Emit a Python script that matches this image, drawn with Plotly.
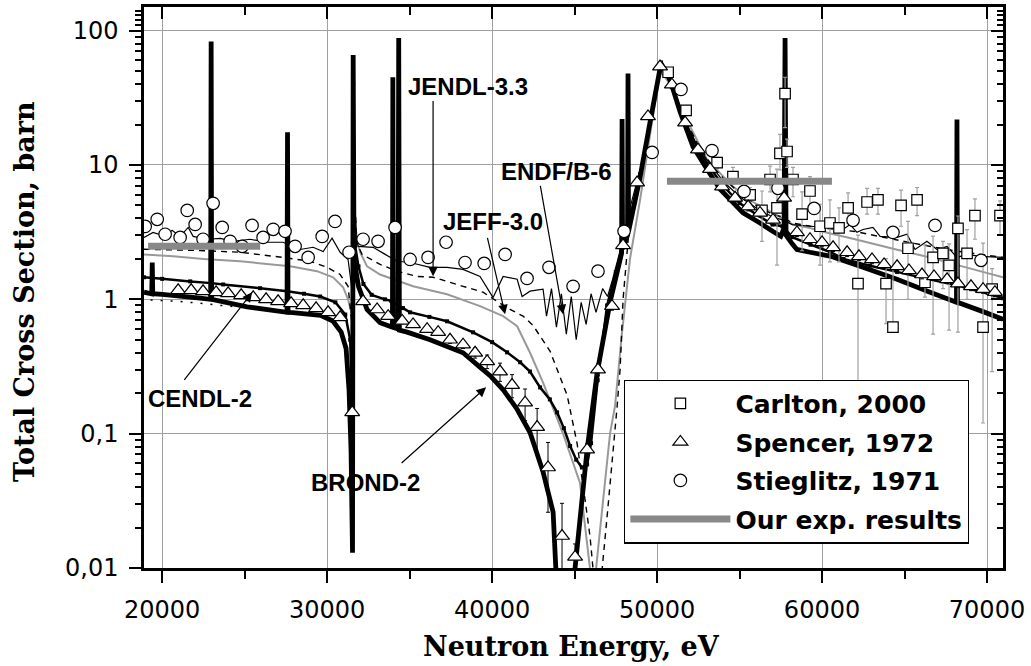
import plotly.graph_objects as go

# ---------------- data (energy in eV, cross section in barn) ----------------
brond_E = [18900, 19370, 19400, 19430, 20000, 22300, 22940, 22970, 23000, 25150, 27570, 27600, 27630,
           27750, 29600, 30350, 30850, 31150, 31330, 31450, 31540, 31580, 31630, 31900, 32420, 33210,
           33800, 33960, 33985, 34010, 34300, 34340, 34380, 34850, 36240, 38240, 39300, 39880, 40700,
           41515, 42300, 43090, 43700, 43950, 44700, 45030, 45760, 46360, 47150, 47850, 47880, 47910,
           48210, 48240, 48270, 48970, 49580, 50240, 50790, 51390, 52180, 53030, 53820, 55210, 56240,
           57030, 57500, 57700, 57760, 57820, 58180, 58480, 59270, 60480, 62480, 64540, 66550, 68150,
           68180, 68210, 69760, 70970]
brond_S = [1.13, 1.10, 1.88, 1.10, 1.09, 1.02, 1.00, 83, 1.00, 0.88, 0.80, 17.5, 0.80,
           0.80, 0.76, 0.69, 0.57, 0.43, 0.21, 0.076, 0.013, 66, 2.0, 1.25, 0.84, 0.67,
           0.63, 0.62, 45, 0.62, 0.60, 88, 0.59, 0.57, 0.50, 0.40, 0.31, 0.27, 0.21,
           0.152, 0.102, 0.052, 0.026, 0.006, 0.006, 0.01, 0.076, 0.28, 0.95, 2.2, 22, 2.4,
           3.0, 48, 3.2, 8.1, 21, 57, 43, 25, 13.7, 9.3, 6.6, 4.4, 3.7,
           3.2, 2.95, 3.4, 88, 3.0, 2.6, 2.35, 2.24, 2.10, 1.73, 1.41, 1.13, 0.95,
           21.8, 0.95, 0.81, 0.71]

cendl_E = [18900, 20000, 21700, 23000, 23700, 25940, 27580, 28600, 29580, 30500, 31100, 31400, 31520,
           31580, 31700, 31900, 32200, 32700, 33500, 33900, 34600, 35030, 36200, 37270, 38850, 40000,
           40910, 41700, 42300, 42910, 43500, 43940, 44350, 44730, 45100, 45450, 45760, 46000, 46400,
           46970, 47500, 48200, 48970, 49600, 50240, 50900, 51700, 52500, 53200, 54000, 55000, 56000,
           57000, 57600, 58200, 59300, 60500, 61300, 62900, 64550, 66360, 68180, 69500, 70360, 70970]
cendl_S = [1.46, 1.42, 1.36, 1.32, 1.29, 1.21, 1.15, 1.10, 1.05, 0.95, 0.77, 0.50, 0.15,
           40, 2.5, 1.76, 1.30, 1.08, 1.00, 0.97, 0.86, 0.80, 0.74, 0.686, 0.568, 0.48,
           0.403, 0.34, 0.29, 0.221, 0.18, 0.144, 0.11, 0.081, 0.064, 0.056, 0.059, 0.085, 0.25,
           0.9, 1.6, 3.3, 8.5, 22, 58, 38, 21, 13.0, 9.6, 7.0, 5.2, 4.3,
           3.6, 3.5, 2.9, 2.55, 2.25, 2.0, 1.78, 1.6, 1.42, 1.27, 1.15, 1.07, 1.02]

jeff_E = [18900, 20670, 22500, 24730, 27760, 29390, 30360, 30970, 31270, 31520, 31570, 31620, 31800,
          32000, 32420, 33210, 35210, 37270, 39270, 40670, 41520, 42300, 43090, 44300, 45330, 45940,
          46120, 46300, 46730, 47150, 47450, 47880, 48360, 48970, 49580, 50180, 50670, 51390, 53030,
          54600, 55820, 57000, 58240, 59270, 60000, 62000, 64500, 66550, 68500, 70970]
jeff_S = [2.16, 2.09, 2.0, 1.92, 1.76, 1.62, 1.46, 1.23, 1.0, 0.75, 0.05, 5, 2.8,
          2.24, 1.76, 1.53, 1.25, 1.09, 0.89, 0.75, 0.63, 0.40, 0.24, 0.10, 0.043, 0.0098,
          0.004, 0.0098, 0.032, 0.10, 0.16, 0.57, 2.0, 5.5, 17, 50, 42, 27, 11,
          6.9, 5.3, 4.4, 3.6, 3.4, 3.2, 2.8, 2.35, 2.05, 1.76, 1.46]

jendl_E = [18900, 22300, 24730, 27330, 28970, 30000, 30790, 31270, 31480, 31560, 31620, 31800, 32120,
           33210, 34240, 35450, 36420, 37270, 38240, 39450, 40300, 41090, 41880, 42480, 43520, 44550,
           45150, 45640, 45940, 46120, 46400, 46670, 46970, 47270, 47580, 47760, 47940, 48300, 49000,
           49600, 50240, 50900, 51700, 52500, 53300, 54000, 55000, 56000, 57000, 57600, 58200, 59300,
           60500, 62000, 64000, 66000, 68000, 70970]
jendl_S = [2.36, 2.31, 2.24, 2.05, 1.92, 1.73, 1.53, 1.25, 0.7, 0.05, 8, 2.6, 2.16,
           1.82, 1.62, 1.48, 1.46, 1.36, 1.25, 1.13, 0.966, 0.84, 0.75, 0.64, 0.41, 0.193,
           0.085, 0.032, 0.017, 0.0098, 0.004, 0.0098, 0.024, 0.061, 0.16, 0.30, 1.0, 3.3, 9,
           22, 55, 38, 22, 14, 10, 8, 6.2, 5.0, 4.3, 4.1, 3.7, 3.5,
           3.35, 3.2, 2.85, 2.55, 2.3, 2.05]

endf_E = [18900, 19450, 20180, 20600, 21090, 21580, 21880, 22730, 23520, 24300, 25330, 26360, 27330,
          28360, 29150, 29760, 30300, 30790, 31270, 31500, 31570, 31620, 31750, 31880, 32790, 33520,
          34240, 35030, 36240, 37270, 38240, 39270, 40060, 40670, 41520, 41820, 42300, 43090, 43300,
          43600, 43900, 44200, 44500, 44800, 45100, 45400, 45700, 46000, 46300, 46700, 47000, 47300,
          47800, 48300, 49000, 49600, 50240, 50900, 51700, 52500, 53300, 54000, 55000, 56000, 57000,
          57600, 58200, 59300, 60500, 61270, 61700, 62120, 62480, 63090, 63520, 64550, 65150, 65640,
          66360, 66970, 67580, 68180, 68790, 69580, 70970]
endf_S = [2.89, 3.15, 2.94, 3.26, 2.94, 3.43, 2.94, 2.80, 2.84, 2.70, 2.80, 2.66, 2.66,
          2.35, 2.44, 2.27, 2.85, 2.24, 1.98, 1.2, 0.1, 10, 3.0, 2.48, 2.44, 2.16,
          1.92, 1.88, 1.73, 1.73, 1.67, 1.48, 1.03, 1.48, 1.41, 1.05, 1.15, 1.19, 0.75,
          1.2, 0.62, 1.1, 0.55, 1.05, 0.5, 0.95, 0.65, 1.1, 0.8, 1.2, 1.05, 1.4,
          2.4, 4.5, 9.5, 23, 55, 38, 21, 13.5, 9.8, 7.6, 5.8, 4.8, 4.1,
          3.9, 3.6, 3.5, 3.4, 3.31, 3.6, 3.15, 3.31, 3.43, 2.94, 2.89, 3.05, 2.35,
          2.70, 2.35, 2.48, 2.05, 2.16, 2.09, 2.05]

dotted_E = [19300, 21000, 22300, 23500, 25300]
dotted_S = [0.99, 0.966, 0.934, 0.902, 0.86]

spencer_E = [20970, 21760, 22480, 23270, 24000, 24790, 25520, 26300, 27030, 27820, 28550, 29330, 30060,
             30790, 31520, 32180, 33030, 33700, 34550, 35210, 36060, 36730, 37450, 38240, 38970, 39700,
             40480, 41210, 42000, 42730, 43390, 44240, 45030, 45760, 46420, 47270, 47940, 48790, 49450,
             50180, 50900, 51700, 52480, 53210, 53940, 54730, 55520, 56240, 57030, 57700, 58480, 59270,
             60000, 60670, 61520, 62240, 63030, 63760, 64550, 65270, 66060, 66790, 67580, 68240, 69030,
             69760, 70480]
spencer_S = [1.167, 1.167, 1.147, 1.127, 1.108, 1.071, 1.035, 1.0, 0.966, 0.934, 0.902, 0.857, 0.80,
             0.735, 0.144, 0.966, 0.84, 0.75, 0.69, 0.65, 0.60, 0.57, 0.50, 0.46, 0.40, 0.345,
             0.29, 0.23, 0.17, 0.112, 0.056, 0.0173, 0.0121, 0.076, 0.30, 0.89, 2.52, 7.4, 23,
             54, 39.6, 20.7, 13.0, 9.3, 6.9, 5.7, 4.9, 4.4, 3.9, 5.7, 3.15, 2.8,
             2.65, 2.44, 2.24, 2.09, 1.98, 1.82, 1.76, 1.64, 1.53, 1.48, 1.41, 1.31, 1.25,
             1.19, 1.13]
spencer_err = [0.03, 0.03, 0.03, 0.03, 0.03, 0.03, 0.03, 0.03, 0.03, 0.03, 0.03, 0.03, 0.03,
               0.03, 0.01, 0.03, 0.03, 0.03, 0.03, 0.03, 0.03, 0.03, 0.03, 0.03, 0.035, 0.04,
               0.045, 0.045, 0.045, 0.042, 0.03, 0.013, 0.003, 0.008, 0.03, 0.06, 0.15, 0.4, 1.2,
               3.0, 2.5, 1.2, 0.8, 0.6, 0.45, 0.4, 0.35, 0.3, 0.28, 0.4, 0.22, 0.2,
               0.19, 0.17, 0.16, 0.15, 0.14, 0.13, 0.12, 0.12, 0.11, 0.1, 0.1, 0.09, 0.09,
               0.08, 0.08]

stieglitz_E = [18970, 19700, 20180, 21090, 21520, 22000, 22480, 23090, 23640, 24120, 24850, 25450, 26120,
               26730, 27450, 28060, 28850, 29700, 30480, 31330, 32180, 33090, 34120, 35030, 36120, 37210,
               38360, 39520, 40790, 42120, 43450, 44910, 46420, 48000, 49700, 51450, 53330, 55270, 57330,
               59520, 61880, 64300, 66850, 69640]
stieglitz_S = [3.49, 3.94, 3.05, 2.89, 4.59, 3.61, 2.80, 5.18, 3.43, 2.70, 2.48, 3.55, 2.89,
               3.32, 3.21, 2.48, 2.05, 2.94, 3.80, 2.24, 2.80, 2.70, 3.43, 1.98, 2.05, 2.66,
               1.88, 1.85, 2.16, 1.43, 1.73, 1.25, 1.62, 3.21, 12.4, 36.5, 12.8, 6.36, 6.70,
               4.75, 3.87, 3.15, 3.55, 1.95]

carlton_E = [50670, 51760, 53640, 54600, 55640, 56360, 56850, 57270, 57450, 57760, 57880, 58240, 58790,
             59270, 59880, 60480, 61030, 61580, 62180, 62730, 63390, 63880, 64300, 64790, 65210, 65760,
             66240, 66730, 67330, 67700, 68240, 68790, 69270, 69760, 70310, 70790]
carlton_S = [49, 25.5, 10.4, 8.2, 6.0, 4.6, 7.8, 4.8, 12.2, 34, 12.6, 7.8, 4.3,
             6.4, 3.5, 3.7, 3.4, 4.8, 1.31, 5.3, 5.5, 1.31, 0.62, 5.0, 2.40, 5.5,
             1.34, 2.05, 2.2, 1.79, 3.37, 2.2, 4.2, 0.62, 1.19, 4.2]
carlton_err_plus = [3, 2, 1, 1.4, 0.8, 1.8, 2.0, 4.5, 4.7, 11, 3, 1.8, 2,
                    1.8, 1.6, 1.8, 1.4, 1.4, 1.7, 1.4, 1.2, 0.7, 2.5, 1.5, 1.4, 1.3,
                    1.2, 0.9, 0.5, 0.8, 0.8, 1.1, 1.4, 2.0, 0.5, 1.2]
carlton_err_minus = [3, 2, 1, 1.0, 0.8, 1.9, 1.5, 3.0, 3, 15, 3, 2, 2,
                     1.8, 1.7, 1.8, 1.5, 1.1, 1.2, 1.0, 1.2, 0.65, 0, 1.5, 1.4, 1.3,
                     0.3, 1.5, 1.0, 1.2, 2.8, 1.2, 1.4, 0.5, 0.9, 1.2]

ours_E = [19150, 25940, None, 50600, 60600]
ours_S = [2.48, 2.48, None, 7.56, 7.56]

x_ticks = [20000, 30000, 40000, 50000, 60000, 70000]
x_tick_labels = ["20000", "30000", "40000", "50000", "60000", "70000"]
x_minor = [25000, 35000, 45000, 55000, 65000]
y_ticks = [0.01, 0.1, 1, 10, 100]
y_tick_labels = ["0,01", "0,1", "1", "10", "100"]
y_minor = [m * d for d in (0.01, 0.1, 1, 10) for m in range(2, 10)] + [110, 120, 130, 140]

x_range = [18900, 70970]
y_range_log = [-2, 2.176]

# label text, label position (E, log10 sigma), arrow tail, arrow tip
labels = [
    ("JENDL-3.3", 38515, 1.585, 36424, 1.488, 36424, 0.171),
    ("JEFF-3.0", 40030, 0.580, 39697, 0.469, 40788, -0.112),
    ("ENDF/B-6", 43909, 0.952, 42909, 0.856, 44303, -0.112),
    ("CENDL-2", 22303, -0.737, 21273, -0.610, 25455, 0.052),
    ("BROND-2", 32303, -1.362, 34424, -1.228, 39636, -0.655),
]

# ---------------- figure ----------------
fig = go.Figure()

fig.add_trace(go.Scatter(x=jeff_E, y=jeff_S, mode="lines", showlegend=False, hoverinfo="skip",
                         line=dict(color="#999999", width=2, simplify=False)))
fig.add_trace(go.Scatter(x=jendl_E, y=jendl_S, mode="lines", showlegend=False, hoverinfo="skip",
                         line=dict(color="black", width=1.4, dash="6px,5px", simplify=False)))
fig.add_trace(go.Scatter(x=endf_E, y=endf_S, mode="lines", showlegend=False, hoverinfo="skip",
                         line=dict(color="black", width=1.2, simplify=False)))
fig.add_trace(go.Scatter(x=dotted_E, y=dotted_S, mode="lines", showlegend=False, hoverinfo="skip",
                         line=dict(color="black", width=1.5, dash="2px,8px", simplify=False)))
fig.add_trace(go.Scatter(x=cendl_E, y=cendl_S, mode="lines+markers", showlegend=False, hoverinfo="skip",
                         line=dict(color="black", width=2.5, simplify=False),
                         marker=dict(symbol="square", size=4, color="black")))
fig.add_trace(go.Scatter(x=brond_E, y=brond_S, mode="lines", showlegend=False, hoverinfo="skip",
                         line=dict(color="black", width=4.8, simplify=False)))

fig.add_trace(go.Scatter(x=carlton_E, y=carlton_S, mode="markers", name="<b>Carlton, 2000</b>",
                         legendrank=1, legendgroup="g1",
                         marker=dict(symbol="square", size=10.5, color="white", line=dict(color="black", width=1.2)),
                         error_y=dict(type="data", symmetric=False, array=carlton_err_plus,
                                      arrayminus=carlton_err_minus, color="#a0a0a0", thickness=1.2, width=2)))
fig.add_trace(go.Scatter(x=spencer_E, y=spencer_S, mode="markers", name="<b>Spencer, 1972</b>",
                         legendrank=2, legendgroup="g2",
                         marker=dict(symbol="triangle-up", size=13, color="white", line=dict(color="black", width=1.2)),
                         error_y=dict(type="data", array=spencer_err, color="black", thickness=1, width=2)))
fig.add_trace(go.Scatter(x=stieglitz_E, y=stieglitz_S, mode="markers", name="<b>Stieglitz, 1971</b>",
                         legendrank=3, legendgroup="g3",
                         marker=dict(symbol="circle", size=12.5, color="white", line=dict(color="black", width=1.2))))
fig.add_trace(go.Scatter(x=ours_E, y=ours_S, mode="lines", name="<b>Our exp. results</b>",
                         legendrank=4, legendgroup="g4",
                         xaxis="x2", yaxis="y2",
                         line=dict(color="#888888", width=7)))

axis_common = dict(tickcolor="black", tickwidth=2, showline=True, linecolor="black", linewidth=2.5,
                   zeroline=False)

annotations = []
for text, tx, ty, ax_, ay_, hx, hy in labels:
    annotations.append(dict(x=tx, y=ty, xref="x", yref="y", text="<b>" + text + "</b>", showarrow=False,
                            font=dict(family="Liberation Sans", size=24, color="black"),
                            xanchor="center", yanchor="middle"))
    annotations.append(dict(x=hx, y=hy, xref="x", yref="y", ax=ax_, ay=ay_, axref="x", ayref="y",
                            text="", showarrow=True, arrowhead=2, arrowsize=1.6, arrowwidth=1.2,
                            arrowcolor="black", standoff=0, startstandoff=0))
annotations.append(dict(x=0.498, y=-0.1408, xref="paper", yref="paper", showarrow=False,
                        text="<b>Neutron Energy, eV</b>", xanchor="center", yanchor="middle",
                        font=dict(family="DejaVu Serif", size=27, color="black")))
annotations.append(dict(x=-0.1385, y=0.492, xref="paper", yref="paper", showarrow=False, textangle=-90,
                        text="<b>Total Cross Section, barn</b>", xanchor="center", yanchor="middle",
                        font=dict(family="DejaVu Serif", size=27, color="black")))

fig.update_layout(
    width=1031, height=666, autosize=False,
    margin=dict(l=144, r=28, t=7, b=98, pad=0),
    paper_bgcolor="white", plot_bgcolor="white",
    showlegend=True,
    legend=dict(x=0.559, y=0.336, xanchor="left", yanchor="top", bgcolor="white",
                bordercolor="black", borderwidth=1.2, itemwidth=100, traceorder="grouped",
                tracegroupgap=3,
                font=dict(family="DejaVu Sans", size=25, color="black")),
    xaxis=dict(range=x_range, tickmode="array", tickvals=x_ticks, ticktext=x_tick_labels,
               ticks="outside", ticklen=12, showgrid=True, gridcolor="#a0a0a0", gridwidth=1.3,
               tickfont=dict(family="DejaVu Sans", size=24, color="black"), ticklabelstandoff=6,
               minor=dict(tickmode="array", tickvals=x_minor, ticks="outside", ticklen=8, tickwidth=2,
                          tickcolor="black", showgrid=False),
               **axis_common),
    yaxis=dict(type="log", range=y_range_log, tickmode="array", tickvals=y_ticks, ticktext=y_tick_labels,
               ticks="outside", ticklen=12, showgrid=True, gridcolor="#a0a0a0", gridwidth=1.3,
               tickfont=dict(family="DejaVu Sans", size=24, color="black"), ticklabelstandoff=6,
               minor=dict(tickmode="array", tickvals=y_minor, ticks="outside", ticklen=6, tickwidth=2,
                          tickcolor="black", showgrid=False),
               **axis_common),
    xaxis2=dict(overlaying="x", side="top", range=x_range, tickmode="array", tickvals=x_ticks,
                showticklabels=False, ticks="inside", ticklen=12, showgrid=False,
                minor=dict(tickmode="array", tickvals=x_minor, ticks="inside", ticklen=8, tickwidth=2,
                           tickcolor="black", showgrid=False),
                **axis_common),
    yaxis2=dict(overlaying="y", side="right", type="log", range=y_range_log, tickmode="array",
                tickvals=y_ticks, showticklabels=False, ticks="inside", ticklen=12, showgrid=False,
                minor=dict(tickmode="array", tickvals=y_minor, ticks="inside", ticklen=6, tickwidth=2,
                           tickcolor="black", showgrid=False),
                **axis_common),
    annotations=annotations,
)

fig.write_html("out.html", config={"displayModeBar": False},
               post_script="document.body.style.margin='0';document.body.style.overflow='hidden';")
